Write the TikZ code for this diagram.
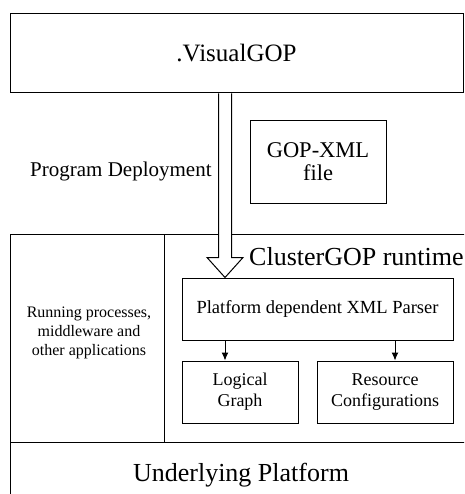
\documentclass[tikz,border=0pt]{standalone}
\usepackage{fontspec}
\setmainfont{Liberation Serif}
\usetikzlibrary{arrows.meta,calc}
\begin{document}
\begin{tikzpicture}[x=1pt,y=-1pt,
  box/.style={draw,line width=1pt,inner sep=0pt,align=center},
  lbl/.style={inner sep=0pt,anchor=base},
  frame/.style={line width=1pt},
  small/.style={font=\fontsize{18}{21}\selectfont},
  ptr/.style={line width=1pt,-{Latex[length=8pt,width=7pt]}},
  hollow/.style={draw,line width=1pt,fill=white,line join=miter}]
\useasboundingbox (0,0) rectangle (464,494);
\clip (0,0) rectangle (464,494);

% editor layer
\node[box,minimum width=453pt,minimum height=79pt,
      font=\fontsize{25}{25}\selectfont] (visual) at (236.5,53.5) {.VisualGOP};

\node[lbl,anchor=base west,font=\fontsize{21}{21}\selectfont] (deploy) at (30,177) {Program Deployment};

\node[box,minimum width=136pt,minimum height=82pt,
      font=\fontsize{22.5}{23}\selectfont] (xmlfile) at (318,162) {GOP-XML\\file};

% runtime layer frame (open to the right and bottom)
\coordinate (ltop) at (10,234);
\coordinate (lbot) at (10,500);
\coordinate (rtop) at (470,234);
\coordinate (dl) at (10,442);
\coordinate (dr) at (470,442);
\coordinate (vt) at (164,234);
\coordinate (vb) at (164,442);
\draw[frame] (lbot) -- (ltop) -- (rtop);
\draw[frame] (dl) -- (dr);
\draw[frame] (vt) -- (vb);

\node[align=center,inner sep=0pt,font=\fontsize{16}{19}\selectfont] (apps) at (89,333)
  {Running processes,\\middleware and\\other applications};

\node[lbl,anchor=base west,font=\fontsize{26}{26}\selectfont] (runtime) at (249,265) {ClusterGOP runtime};

\node[box,minimum width=271pt,minimum height=62pt,
      font=\fontsize{18.5}{20}\selectfont] (parser) at (317.5,309) {Platform dependent XML Parser};

\node[box,minimum width=116pt,minimum height=62pt,small] (logical) at (240,392) {Logical\\Graph};
\node[box,minimum width=136pt,minimum height=62pt,small] (resource) at (385,392) {Resource\\Configurations};

\node[lbl,font=\fontsize{26}{26}\selectfont] (platform) at (241,481) {Underlying Platform};

% parser outputs
\coordinate (a1) at (225,0);
\coordinate (a2) at (395,0);
\draw[ptr] (parser.south -| a1) -- (logical.north -| a1);
\draw[ptr] (parser.south -| a2) -- (resource.north -| a2);

% hollow deployment arrow
\coordinate (ds) at (visual.south -| a1);
\coordinate (dt) at (parser.north -| a1);
\draw[hollow] ([xshift=-6.5pt]ds) -- ([xshift=-6.5pt,yshift=20pt]dt)
  -- ([xshift=-18pt,yshift=20pt]dt) -- (dt)
  -- ([xshift=18pt,yshift=20pt]dt) -- ([xshift=6.5pt,yshift=20pt]dt)
  -- ([xshift=6.5pt]ds);
\end{tikzpicture}
\end{document}
